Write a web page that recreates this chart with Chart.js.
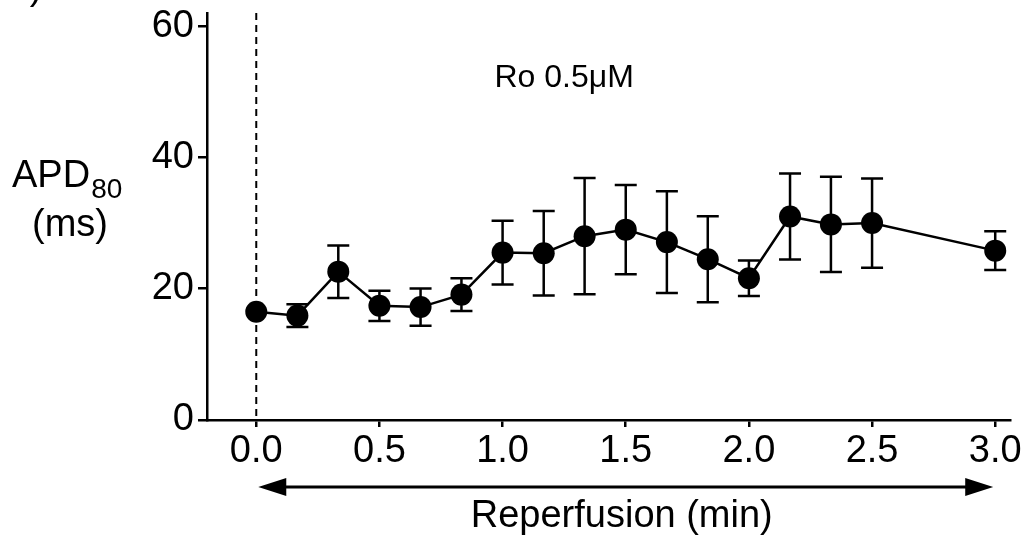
<!DOCTYPE html>
<html>
<head>
<meta charset="utf-8">
<style>
  html, body { margin: 0; padding: 0; background: #fff; }
  #chart { display: block; }
</style>
<script src="https://cdn.jsdelivr.net/npm/chart.js@4.4.1/dist/chart.umd.min.js"></script>
</head>
<body>
<canvas id="chart" width="1023" height="543"></canvas>
<script>
// Reperfusion time (min), APD80 mean and SEM (ms)
const times = [0, 0.167, 0.333, 0.5, 0.667, 0.833, 1.0, 1.167, 1.333, 1.5, 1.667, 1.833, 2.0, 2.167, 2.333, 2.5, 3.0];
const apdMean = [16.5, 15.9, 22.6, 17.4, 17.2, 19.1, 25.5, 25.4, 28.0, 29.0, 27.1, 24.5, 21.6, 31.0, 29.8, 30.0, 25.8];
const apdSem = [0, 1.75, 4.0, 2.3, 2.85, 2.5, 4.85, 6.45, 8.85, 6.8, 7.75, 6.55, 2.7, 6.55, 7.25, 6.8, 2.95];
const xTicks = [0, 0.5, 1.0, 1.5, 2.0, 2.5, 3.0];
const yTicks = [0, 20, 40, 60];

const FONT = "'Liberation Sans', Arial, sans-serif";
const ctx = document.getElementById("chart").getContext("2d");

// error bars, dashed start line and the hand-placed labels
const decor = {
    id: "decor",
    beforeDatasetsDraw(chart) {
        const { ctx, chartArea, scales: { x, y } } = chart;
        ctx.save();
        // dashed line at start of reperfusion
        ctx.strokeStyle = "#000";
        ctx.lineWidth = 2;
        ctx.setLineDash([7, 5]);
        ctx.beginPath();
        ctx.moveTo(x.getPixelForValue(0), chartArea.top);
        ctx.lineTo(x.getPixelForValue(0), chartArea.bottom);
        ctx.stroke();
        ctx.setLineDash([]);

        // error bars
        ctx.lineWidth = 2.5;
        times.forEach((t, i) => {
            if (!apdSem[i]) return;
            const px = x.getPixelForValue(t);
            const top = y.getPixelForValue(apdMean[i] + apdSem[i]);
            const bot = y.getPixelForValue(apdMean[i] - apdSem[i]);
            ctx.beginPath();
            ctx.moveTo(px, top); ctx.lineTo(px, bot);
            ctx.moveTo(px - 11, top); ctx.lineTo(px + 11, top);
            ctx.moveTo(px - 11, bot); ctx.lineTo(px + 11, bot);
            ctx.stroke();
        });
        ctx.restore();
    },
    afterDraw(chart) {
        const { ctx, scales: { x, y } } = chart;
        ctx.save();
        ctx.fillStyle = "#000";
        ctx.strokeStyle = "#000";

        // double-headed arrow under the x axis
        const x0 = x.getPixelForValue(0) + 2;
        const x1 = x.getPixelForValue(3) - 2;
        const ay = 487;
        ctx.lineWidth = 3;
        ctx.beginPath();
        ctx.moveTo(x0 + 20, ay); ctx.lineTo(x1 - 20, ay);
        ctx.stroke();
        ctx.beginPath();
        ctx.moveTo(x0, ay); ctx.lineTo(x0 + 28, ay - 9); ctx.lineTo(x0 + 28, ay + 9); ctx.closePath();
        ctx.moveTo(x1, ay); ctx.lineTo(x1 - 28, ay - 9); ctx.lineTo(x1 - 28, ay + 9); ctx.closePath();
        ctx.fill();

        // x axis title
        ctx.font = `38px ${FONT}`;
        ctx.textAlign = "center";
        ctx.textBaseline = "alphabetic";
        ctx.fillText("Reperfusion (min)", (x0 + x1) / 2 - 4, 527);

        // y axis title with subscript
        ctx.textAlign = "left";
        ctx.fillText("APD", 12, 187);
        const w = ctx.measureText("APD").width;
        ctx.font = `28px ${FONT}`;
        ctx.fillText("80", 12 + w + 1, 198);
        ctx.font = `38px ${FONT}`;
        ctx.textAlign = "center";
        ctx.fillText("(ms)", 70, 236);

        // treatment annotation
        ctx.font = `32px ${FONT}`;
        ctx.fillText("Ro 0.5\u03BCM", x.getPixelForValue(1.25), y.getPixelForValue(50.7));

        // cut-off panel letter at the top left
        ctx.font = `38px ${FONT}`;
        ctx.fillText(")", 36, -1);
        ctx.restore();
    }
};

const apdChart = new Chart(ctx, {
    type: "scatter",
    data: {
        datasets: [{
            data: times.map((t, i) => ({ x: t, y: apdMean[i] })),
            showLine: true,
            borderColor: "#000",
            borderWidth: 2.5,
            pointRadius: 11,
            pointBackgroundColor: "#000",
            pointBorderWidth: 0,
            pointHoverRadius: 11
        }]
    },
    options: {
        responsive: false,
        animation: false,
        devicePixelRatio: 1,
        layout: { padding: { left: 0, right: 13, top: 13, bottom: 0 } },
        scales: {
            x: {
                type: "linear",
                min: -0.2,
                max: 3.06,
                afterBuildTicks: scale => { scale.ticks = xTicks.map(v => ({ value: v })); },
                afterFit: scale => {
                    scale.height = 123;
                    scale.paddingLeft = 0;
                    scale.paddingRight = 0;
                },
                ticks: {
                    color: "#000",
                    font: { family: FONT, size: 38 },
                    padding: 2,
                    maxRotation: 0,
                    autoSkip: false,
                    callback: v => v.toFixed(1)
                },
                grid: { display: true, drawOnChartArea: false, tickLength: 7, color: "#000", lineWidth: 2.5 },
                border: { display: true, color: "#000", width: 2.5 }
            },
            y: {
                min: 0,
                max: 62,
                afterBuildTicks: scale => { scale.ticks = yTicks.map(v => ({ value: v })); },
                afterFit: scale => {
                    scale.width = 207;
                    scale.paddingTop = 0;
                    scale.paddingBottom = 0;
                },
                ticks: {
                    color: "#000",
                    font: { family: FONT, size: 38 },
                    padding: 4
                },
                grid: { display: true, drawOnChartArea: false, tickLength: 9, color: "#000", lineWidth: 2.5 },
                border: { display: true, color: "#000", width: 2.5 }
            }
        },
        plugins: {
            legend: { display: false },
            tooltip: { enabled: false }
        }
    },
    plugins: [decor]
});
</script>
</body>
</html>
